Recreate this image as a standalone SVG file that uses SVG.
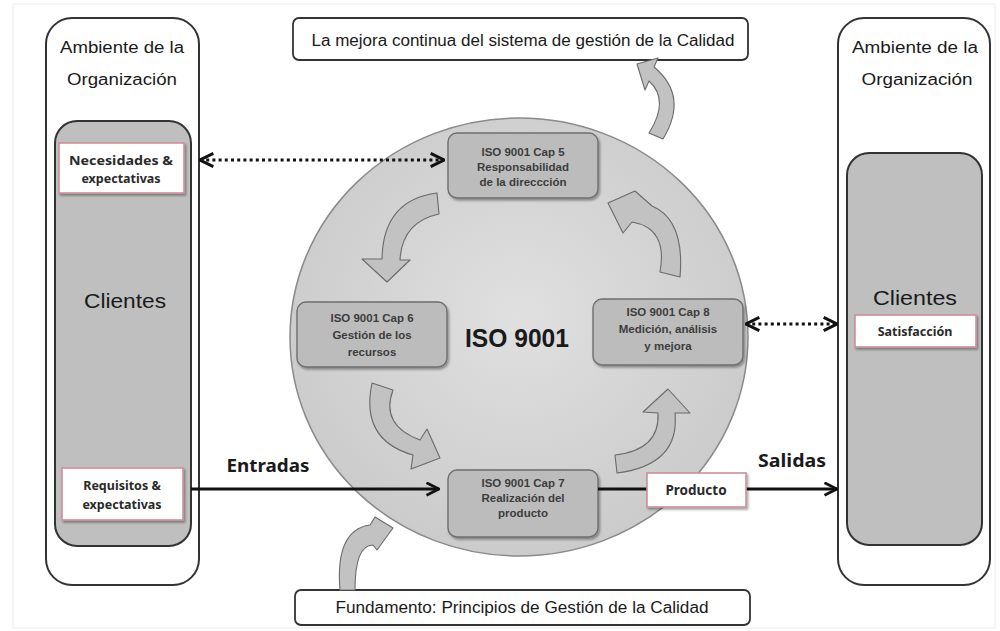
<svg xmlns="http://www.w3.org/2000/svg" width="1000" height="631" viewBox="0 0 1000 631">
  <defs>
    <radialGradient id="discFill" cx="50%" cy="45%" r="55%">
      <stop offset="0" stop-color="#e0e0e0"/>
      <stop offset="1" stop-color="#cbcbcb"/>
    </radialGradient>
    <filter id="soft" x="-10%" y="-10%" width="130%" height="140%">
      <feDropShadow dx="1.5" dy="2" stdDeviation="1.2" flood-color="#000" flood-opacity="0.35"/>
    </filter>
    <marker id="chevron" viewBox="0 0 12 12" refX="11" refY="6" markerWidth="5" markerHeight="5" markerUnits="strokeWidth" orient="auto-start-reverse">
      <polyline points="1,1 11,6 1,11" fill="none" stroke="#111" stroke-width="2.2" stroke-linejoin="miter"/>
    </marker>
    <style>
      .frame { fill: #fff; stroke: #333; stroke-width: 2; }
      .inner { fill: #bfbfbf; stroke: #333; stroke-width: 2; }
      .note { fill: #fff; stroke: #333; stroke-width: 1.8; }
      .tag { fill: #fff; stroke: #cf8e9b; stroke-width: 1.6; }
      .cap { fill: #bcbcbc; stroke: #6e6e6e; stroke-width: 1.4; }
      .flow { fill: #c2c2c2; stroke: #6a6a6a; stroke-width: 1.1; stroke-linejoin: round; }
      .sans { font-family: "Liberation Sans", Arial, sans-serif; fill: #1a1a1a; }
      .capt { font-family: "Liberation Sans", Arial, sans-serif; font-weight: bold; font-size: 11.5px; fill: #3c3c3c; text-anchor: middle; }
      .tagt { font-family: "Noto Sans", "Liberation Sans", sans-serif; font-weight: bold; font-size: 12.5px; fill: #2a2a2a; text-anchor: middle; }
      .label { font-family: "Noto Sans", "Liberation Sans", sans-serif; font-weight: bold; font-size: 18px; fill: #1a1a1a; text-anchor: middle; }
      .solid { fill: none; stroke: #111; stroke-width: 3; }
      .dotted { fill: none; stroke: #111; stroke-width: 3.2; stroke-dasharray: 3 3.2; }
    </style>
  </defs>

  <rect x="0" y="0" width="1000" height="631" fill="#fff"/>
  <rect x="13" y="4" width="982" height="624" fill="none" stroke="#ececec" stroke-width="1"/>

  <!-- left environment column -->
  <g id="env-left">
    <rect class="frame" x="46" y="18" width="153" height="567" rx="26"/>
    <text class="sans" x="122" y="53" font-size="16" text-anchor="middle" textLength="124" lengthAdjust="spacingAndGlyphs">Ambiente de la</text>
    <text class="sans" x="122" y="85" font-size="16" text-anchor="middle" textLength="110" lengthAdjust="spacingAndGlyphs">Organización</text>
  </g>
  <g id="clients-left">
    <rect class="inner" x="55" y="121" width="136" height="425" rx="22"/>
    <text class="sans" x="125" y="308" font-size="21" text-anchor="middle" textLength="82" lengthAdjust="spacingAndGlyphs">Clientes</text>
  </g>
  <g id="needs">
    <rect class="tag" x="59" y="143" width="125" height="50" filter="url(#soft)"/>
    <text class="tagt" x="121" y="165" textLength="104" lengthAdjust="spacingAndGlyphs">Necesidades &amp;</text>
    <text class="tagt" x="121" y="183">expectativas</text>
  </g>
  <g id="requirements">
    <rect class="tag" x="62" y="468" width="121" height="52" filter="url(#soft)"/>
    <text class="tagt" x="122" y="490">Requisitos &amp;</text>
    <text class="tagt" x="122" y="509">expectativas</text>
  </g>

  <!-- right environment column -->
  <g id="env-right">
    <rect class="frame" x="838" y="18" width="152" height="567" rx="26"/>
    <text class="sans" x="915" y="53" font-size="16" text-anchor="middle" textLength="126" lengthAdjust="spacingAndGlyphs">Ambiente de la</text>
    <text class="sans" x="917" y="85" font-size="16" text-anchor="middle" textLength="111" lengthAdjust="spacingAndGlyphs">Organización</text>
  </g>
  <g id="clients-right">
    <rect class="inner" x="847" y="153" width="135" height="392" rx="22"/>
    <text class="sans" x="915" y="305" font-size="21" text-anchor="middle" textLength="84" lengthAdjust="spacingAndGlyphs">Clientes</text>
  </g>
  <g id="satisfaction">
    <rect class="tag" x="855" y="315" width="121" height="32" filter="url(#soft)"/>
    <text class="tagt" x="915" y="336">Satisfacción</text>
  </g>

  <!-- top and bottom banners -->
  <g id="improvement">
    <rect class="note" x="293" y="18" width="455" height="42" rx="6"/>
    <text class="sans" x="523" y="46" font-size="16" text-anchor="middle" textLength="423" lengthAdjust="spacingAndGlyphs">La mejora continua del sistema de gestión de la Calidad</text>
  </g>
  <g id="foundation">
    <rect class="note" x="295" y="590" width="455" height="35" rx="6"/>
    <text class="sans" x="522" y="613" font-size="16" text-anchor="middle" textLength="373" lengthAdjust="spacingAndGlyphs">Fundamento: Principios de Gestión de la Calidad</text>
  </g>

  <!-- central ISO 9001 disc -->
  <g id="iso-disc">
    <ellipse cx="519" cy="337" rx="229" ry="219" fill="url(#discFill)" stroke="#8a8a8a" stroke-width="1.5"/>
    <text class="sans" x="517" y="347" font-size="26" font-weight="bold" text-anchor="middle" textLength="104" lengthAdjust="spacingAndGlyphs" fill="#222">ISO 9001</text>
  </g>

  <!-- cycle arrows -->
  <g id="cycle-arrows">
    <path class="flow" d="M637,64 L658,58 L654,67 Q689,96 663,139 L649,133 Q670,100 649,81 L645,90 Z"/>
    <path class="flow" d="M437,193 Q383,200 382,259 L362,259 L387,282 L410,260 L400,260 Q402,222 439,214 Z"/>
    <path class="flow" d="M660,272 Q668,228 632,222 L623,233 L608,203 L635,191 L652,206 Q685,220 680,277 Z"/>
    <path class="flow" d="M372,383 Q360,440 413,455 L411,469 L440,458 L427,429 L420,440 Q380,425 393,390 Z"/>
    <path class="flow" d="M615,455 Q660,450 658,413 L643,412 L668,389 L690,413 L675,413 Q680,465 617,473 Z"/>
    <path class="flow" d="M340,590 Q335,530 370,525 L375,517 L393,528 L377,550 L373,545 Q355,545 355,590 Z"/>
  </g>

  <!-- ISO chapters -->
  <g id="cap5">
    <rect class="cap" x="448" y="133" width="150" height="65" rx="9" filter="url(#soft)"/>
    <text class="capt" x="523" y="156">ISO 9001 Cap 5</text>
    <text class="capt" x="523" y="171">Responsabilidad</text>
    <text class="capt" x="523" y="186">de la direccción</text>
  </g>
  <g id="cap6">
    <rect class="cap" x="297" y="302" width="150" height="65" rx="9" filter="url(#soft)"/>
    <text class="capt" x="372" y="322">ISO 9001 Cap 6</text>
    <text class="capt" x="372" y="339">Gestión de los</text>
    <text class="capt" x="372" y="356">recursos</text>
  </g>
  <g id="cap8">
    <rect class="cap" x="593" y="299" width="150" height="66" rx="9" filter="url(#soft)"/>
    <text class="capt" x="668" y="316">ISO 9001 Cap 8</text>
    <text class="capt" x="668" y="333">Medición, análisis</text>
    <text class="capt" x="668" y="350">y mejora</text>
  </g>
  <g id="cap7">
    <rect class="cap" x="448" y="470" width="150" height="67" rx="9" filter="url(#soft)"/>
    <text class="capt" x="523" y="487">ISO 9001 Cap 7</text>
    <text class="capt" x="523" y="502">Realización del</text>
    <text class="capt" x="523" y="517">producto</text>
  </g>

  <!-- connectors -->
  <g id="connectors">
    <line class="dotted" x1="200" y1="160" x2="444" y2="160" marker-start="url(#chevron)" marker-end="url(#chevron)"/>
    <line class="dotted" x1="746" y1="324" x2="837" y2="324" marker-start="url(#chevron)" marker-end="url(#chevron)"/>
    <line class="solid" x1="191" y1="489" x2="439" y2="489" marker-end="url(#chevron)"/>
    <line class="solid" x1="598" y1="489" x2="647" y2="489"/>
    <line class="solid" x1="746" y1="489" x2="837" y2="489" marker-end="url(#chevron)"/>
    <text class="label" x="268" y="472" textLength="83" lengthAdjust="spacingAndGlyphs">Entradas</text>
    <text class="label" x="792" y="467" textLength="68" lengthAdjust="spacingAndGlyphs">Salidas</text>
  </g>

  <g id="product">
    <rect class="tag" x="647" y="473" width="99" height="34" filter="url(#soft)"/>
    <text class="tagt" x="696" y="495" style="font-size:13.5px">Producto</text>
  </g>
</svg>
